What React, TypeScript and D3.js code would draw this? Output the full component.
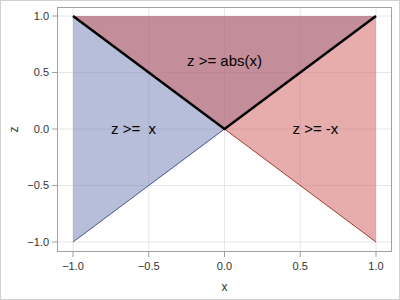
import React from "react";
import * as d3 from "d3";

const xTicks = [-1.0, -0.5, 0.0, 0.5, 1.0];
const zTicks = [-1.0, -0.5, 0.0, 0.5, 1.0];
// region z >= x (blue) and z >= -x (red), domain corners
const bluePoly: [number, number][] = [[-1, -1], [1, 1], [-1, 1]];
const redPoly: [number, number][] = [[-1, 1], [1, -1], [1, 1]];
const blueLine: [number, number][] = [[-1, -1], [1, 1]];
const redLine: [number, number][] = [[-1, 1], [1, -1]];
const absLine: [number, number][] = [[-1, 1], [0, 0], [1, 1]];
const labels = [
  { text: "z >=  x", x: -0.6, z: 0 },
  { text: "z >= -x", x: 0.6, z: 0 },
  { text: "z >= abs(x)", x: 0, z: 0.6 },
];

export default function App() {
  const W = 400, H = 300;
  const frame = { l: 57, r: 392, t: 7, b: 252 };
  const xs = d3.scaleLinear().domain([-1, 1]).range([73, 376]);
  const ys = d3.scaleLinear().domain([-1, 1]).range([242, 16]);
  const line = d3.line<[number, number]>().x(d => xs(d[0])).y(d => ys(d[1]));
  const poly = (p: [number, number][]) => line(p) + "Z";
  const font = "Arial, 'Liberation Sans', sans-serif";
  return (
    <svg width={W} height={H} style={{ position: "absolute", left: 0, top: 0 }} fontFamily={font}>
      <rect x={0} y={0} width={W} height={H} fill="white" />
      <rect x={0.5} y={0.5} width={W - 1} height={H - 1} fill="none" stroke="#d0d0d0" />
      {xTicks.map(t => (
        <line key={"gx" + t} x1={xs(t)} x2={xs(t)} y1={frame.t} y2={frame.b} stroke="#e6e6e6" />
      ))}
      {zTicks.map(t => (
        <line key={"gz" + t} x1={frame.l} x2={frame.r} y1={ys(t)} y2={ys(t)} stroke="#e6e6e6" />
      ))}
      <path d={poly(bluePoly)} fill="#6F7EB3" fillOpacity={0.5} />
      <path d={poly(redPoly)} fill="#D05B5B" fillOpacity={0.5} />
      <path d={line(blueLine)!} fill="none" stroke="#445694" strokeWidth={1} />
      <path d={line(redLine)!} fill="none" stroke="#A23A2E" strokeWidth={1} />
      <path d={line(absLine)!} fill="none" stroke="black" strokeWidth={2.5} />
      {labels.map(l => (
        <text key={l.text} x={xs(l.x)} y={ys(l.z)} dy="0.35em" textAnchor="middle" fontSize={15} fill="black" style={{ whiteSpace: "pre" }}>
          {l.text}
        </text>
      ))}
      <rect x={frame.l + 0.5} y={frame.t + 0.5} width={frame.r - frame.l - 1} height={frame.b - frame.t - 1} fill="none" stroke="#a0a0a0" />
      {xTicks.map(t => (
        <g key={"tx" + t}>
          <line x1={xs(t)} x2={xs(t)} y1={frame.b} y2={frame.b + 5} stroke="#a0a0a0" />
          <text x={xs(t)} y={frame.b + 18} textAnchor="middle" fontSize={11} fill="#333">{d3.format(".1f")(t)}</text>
        </g>
      ))}
      {zTicks.map(t => (
        <g key={"tz" + t}>
          <line x1={frame.l - 5} x2={frame.l} y1={ys(t)} y2={ys(t)} stroke="#a0a0a0" />
          <text x={frame.l - 8} y={ys(t)} dy="0.35em" textAnchor="end" fontSize={11} fill="#333">{d3.format(".1f")(t)}</text>
        </g>
      ))}
      <text x={(frame.l + frame.r) / 2} y={291} textAnchor="middle" fontSize={12} fill="#333">x</text>
      <text transform={`translate(18,${(frame.t + frame.b) / 2}) rotate(-90)`} textAnchor="middle" fontSize={12} fill="#333">z</text>
    </svg>
  );
}
